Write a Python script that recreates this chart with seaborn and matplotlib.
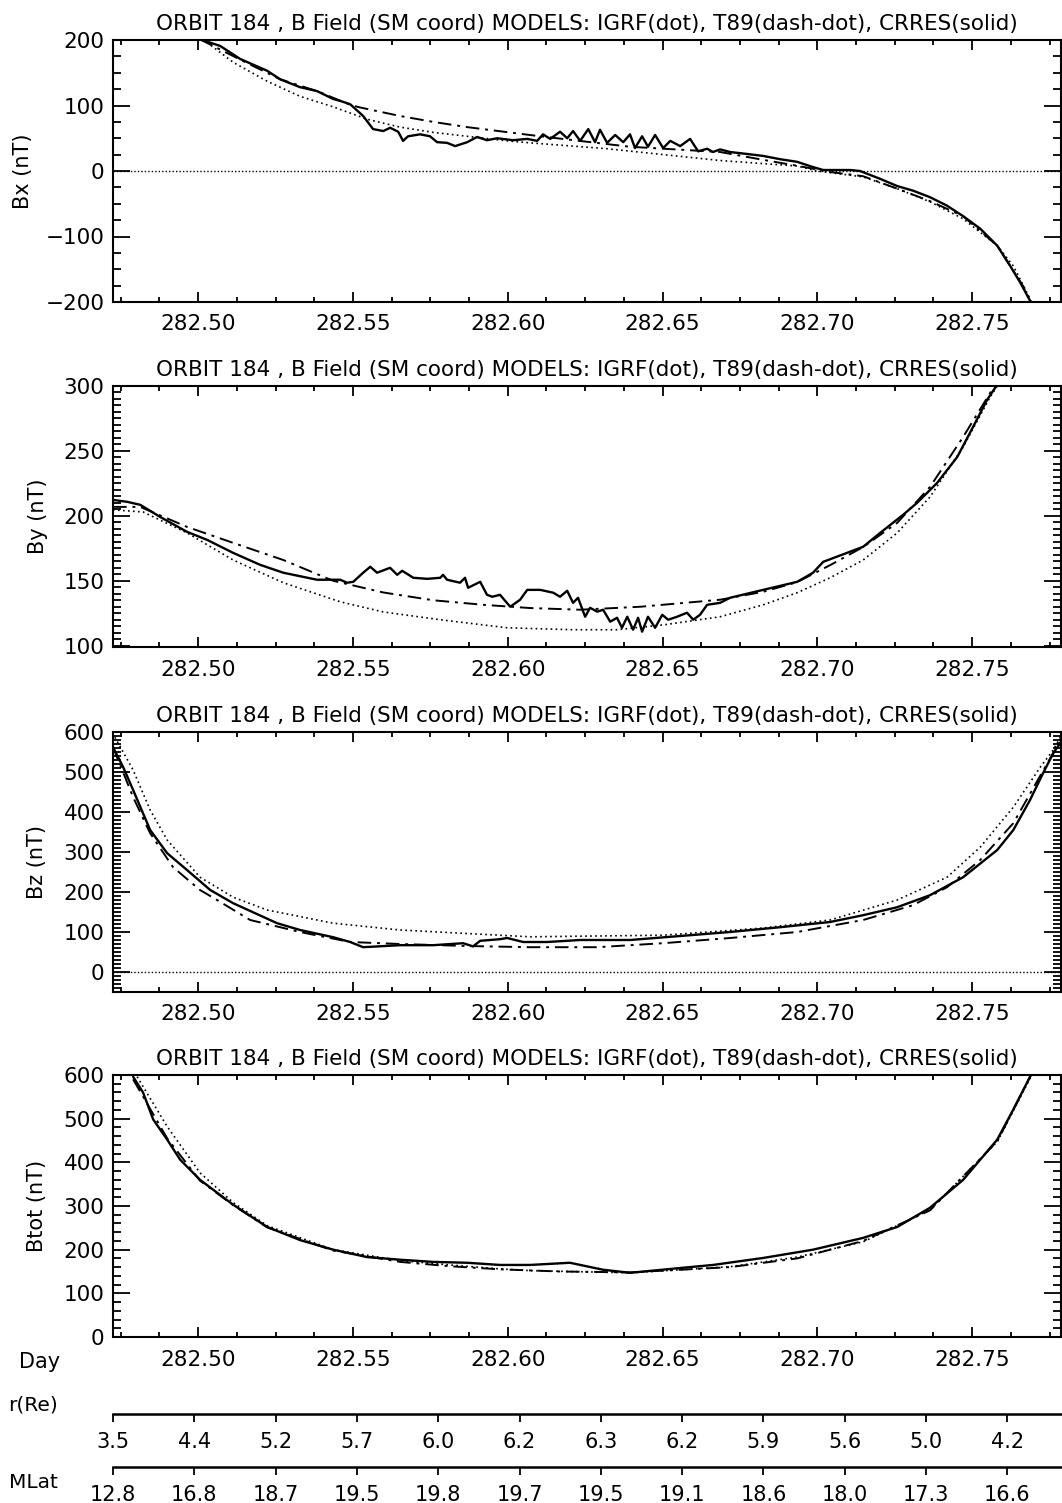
import matplotlib

matplotlib.use("Agg")
import matplotlib.pyplot as plt
import seaborn as sns
from matplotlib.ticker import FormatStrFormatter, MultipleLocator

TITLE = "ORBIT 184 , B Field (SM coord) MODELS: IGRF(dot), T89(dash-dot), CRRES(solid)"
XLIM = (282.4725, 282.7787)

# ---- Bx ----
BX_DAY_CRRES = [282.5006, 282.5071, 282.5136, 282.5223, 282.5265, 282.5329, 282.5384, 282.5436,
                282.5459, 282.5491, 282.5533, 282.5565, 282.5598, 282.5620, 282.5646, 282.5662,
                282.5678, 282.5717, 282.5749, 282.5772, 282.5804, 282.5830, 282.5869, 282.5901,
                282.5933, 282.5966, 282.6017, 282.6063, 282.6095, 282.6114, 282.6137, 282.6169,
                282.6192, 282.6211, 282.6234, 282.6260, 282.6282, 282.6298, 282.6321, 282.6347,
                282.6373, 282.6395, 282.6411, 282.6434, 282.6453, 282.6476, 282.6502, 282.6525,
                282.6557, 282.6589, 282.6615, 282.6644, 282.6663, 282.6686, 282.6718, 282.6773,
                282.6825, 282.6880, 282.6935, 282.6986, 282.7019, 282.7106, 282.7138, 282.7203,
                282.7258, 282.7309, 282.7364, 282.7419, 282.7471, 282.7526, 282.7581, 282.7623,
                282.7655, 282.7687, 282.7700]
BX_CRRES = [201, 191, 171, 153, 140, 128, 122, 110,
            107, 102, 84, 64, 61, 66, 60, 46,
            53, 56, 53, 44, 43, 38, 44, 52,
            47, 50, 47, 49, 46, 56, 49, 60,
            50, 61, 46, 64, 44, 63, 43, 55,
            44, 56, 35, 53, 37, 55, 35, 46,
            38, 49, 30, 34, 29, 33, 29, 26,
            23, 18, 14, 6, 1.5, 1.5, 0, -12,
            -23, -30, -40, -53, -69, -88, -114, -145,
            -170, -198, -210]

BX_DAY_T89 = [282.5006, 282.5136, 282.5265, 282.5384, 282.5491, 282.5523, 282.5652, 282.5759,
              282.5869, 282.6105, 282.6395, 282.6686, 282.6825, 282.6935, 282.7041, 282.7148,
              282.7258, 282.7364, 282.7471, 282.7581, 282.7665, 282.7687, 282.7700]
BX_T89 = [201, 170, 140, 122, 101, 97, 84, 75,
          67, 53, 37, 29, 17, 8, -1.5, -8,
          -27, -46, -69, -114, -176, -198, -210]

BX_DAY_IGRF = [282.5016, 282.5113, 282.5223, 282.5329, 282.5436, 282.5546, 282.5652, 282.5759,
               282.5869, 282.5998, 282.6072, 282.6321, 282.6686, 282.6935, 282.7000, 282.7148,
               282.7258, 282.7364, 282.7471, 282.7581, 282.7633, 282.7687, 282.7697]
BX_IGRF = [201, 166, 137, 114, 98, 79, 67, 59,
           53, 46, 43, 34, 16, 7.6, 0, -9,
           -27, -47, -73, -114, -145, -195, -210]

# ---- By ----
BY_DAY_CRRES = [282.4725, 282.4771, 282.4813, 282.4877, 282.4964, 282.5029, 282.5113, 282.5200,
                282.5275, 282.5384, 282.5459, 282.5481, 282.5501, 282.5533, 282.5556, 282.5578,
                282.5620, 282.5643, 282.5659, 282.5695, 282.5740, 282.5782, 282.5791, 282.5804,
                282.5846, 282.5862, 282.5872, 282.5911, 282.5933, 282.5950, 282.5975, 282.6008,
                282.6040, 282.6063, 282.6105, 282.6147, 282.6169, 282.6192, 282.6211, 282.6227,
                282.6250, 282.6266, 282.6289, 282.6308, 282.6331, 282.6353, 282.6369, 282.6386,
                282.6405, 282.6421, 282.6434, 282.6453, 282.6476, 282.6499, 282.6518, 282.6547,
                282.6579, 282.6599, 282.6621, 282.6644, 282.6686, 282.6718, 282.6825, 282.6935,
                282.6986, 282.7019, 282.7096, 282.7148, 282.7203, 282.7277, 282.7322, 282.7387,
                282.7452, 282.7503, 282.7548, 282.7574, 282.7590]
BY_CRRES = [212.3, 210.8, 208.5, 199.2, 187.7, 181.5, 171.5, 162.3,
            156.2, 150.8, 150.8, 148.5, 149.2, 156.2, 160.8, 156.2,
            160.0, 154.6, 157.7, 152.3, 151.5, 152.3, 154.6, 150.8,
            148.5, 152.3, 144.6, 149.2, 139.2, 137.7, 139.2, 130.0,
            135.4, 143.0, 143.0, 140.8, 137.7, 142.3, 133.0, 136.9,
            122.3, 129.2, 126.2, 127.7, 118.5, 121.5, 113.8, 122.3,
            112.3, 121.5, 110.8, 122.3, 113.8, 123.8, 120.0, 122.3,
            125.4, 120.0, 123.8, 131.5, 133.0, 136.9, 143.0, 149.2,
            156.2, 164.6, 171.5, 176.2, 186.9, 200.8, 210.0, 225.4,
            245.4, 268.5, 289.2, 298.5, 305.0]

BY_DAY_T89 = [282.4725, 282.4813, 282.4964, 282.5113, 282.5275, 282.5436, 282.5598, 282.5759,
              282.5921, 282.6072, 282.6234, 282.6428, 282.6686, 282.6825, 282.6935, 282.7041,
              282.7148, 282.7258, 282.7364, 282.7471, 282.7558, 282.7578]
BY_T89 = [206.9, 206.9, 191.5, 179.2, 166.0, 150.0, 141.0, 135.0,
          131.5, 129.0, 127.7, 130.0, 135.4, 141.5, 149.0, 162.0,
          176.0, 194.6, 222.3, 260.8, 294.6, 302.0]

BY_DAY_IGRF = [282.4725, 282.4822, 282.4964, 282.5113, 282.5275, 282.5459, 282.5598, 282.5782,
               282.5998, 282.6211, 282.6353, 282.6502, 282.6686, 282.6825, 282.6935, 282.7041,
               282.7148, 282.7258, 282.7364, 282.7471, 282.7558, 282.7584]
BY_IGRF = [204.6, 203.0, 186.9, 166.0, 148.5, 133.8, 126.0, 120.0,
           113.8, 112.3, 112.3, 116.0, 122.3, 131.5, 140.8, 152.3,
           166.0, 186.9, 214.6, 253.0, 291.5, 301.0]

# ---- Bz ----
BZ_DAY_CRRES = [282.4725, 282.4758, 282.4790, 282.4845, 282.4900, 282.4964, 282.5039, 282.5113,
                282.5255, 282.5329, 282.5436, 282.5491, 282.5533, 282.5652, 282.5759, 282.5856,
                282.5888, 282.5911, 282.5975, 282.5998, 282.6050, 282.6127, 282.6234, 282.6395,
                282.6557, 282.6718, 282.6880, 282.7041, 282.7148, 282.7258, 282.7364, 282.7471,
                282.7581, 282.7633, 282.7687, 282.7729, 282.7762, 282.7787]
BZ_CRRES = [562, 512, 455, 355, 297, 255, 205, 172,
            122, 105, 87, 75, 62, 67, 67, 72,
            64, 78, 82, 85, 75, 75, 80, 80,
            90, 100, 112, 125, 142, 162, 192, 237,
            305, 355, 430, 497, 547, 575]

BZ_DAY_T89 = [282.4725, 282.4790, 282.4845, 282.4919, 282.5006, 282.5061, 282.5168, 282.5329,
              282.5491, 282.5652, 282.5869, 282.6072, 282.6289, 282.6502, 282.6718, 282.6935,
              282.7148, 282.7309, 282.7419, 282.7526, 282.7633, 282.7743, 282.7787]
BZ_T89 = [562, 437, 347, 262, 205, 180, 130, 100,
          75, 70, 65, 62, 62, 72, 85, 100,
          130, 167, 212, 280, 372, 522, 580]

BZ_DAY_IGRF = [282.4731, 282.4790, 282.4845, 282.4900, 282.5006, 282.5113, 282.5223, 282.5436,
               282.5652, 282.6072, 282.6502, 282.6825, 282.7041, 282.7258, 282.7419, 282.7526,
               282.7633, 282.7720, 282.7762, 282.7787]
BZ_IGRF = [587, 505, 405, 330, 237, 187, 155, 122,
           105, 88, 92, 110, 130, 180, 237, 312,
           412, 512, 555, 590]

# ---- Btot ----
BT_DAY_CRRES = [282.4790, 282.4822, 282.4855, 282.4900, 282.4942, 282.5006, 282.5113, 282.5223,
                282.5329, 282.5436, 282.5546, 282.5652, 282.5759, 282.5869, 282.5975, 282.6072,
                282.6201, 282.6308, 282.6395, 282.6557, 282.6663, 282.6825, 282.6986, 282.7148,
                282.7258, 282.7364, 282.7471, 282.7581, 282.7633, 282.7687, 282.7697]
BT_CRRES = [596, 560, 498, 452, 406, 360, 303, 252,
            222, 200, 183, 177, 172, 170, 165, 165,
            170, 154, 147, 158, 165, 181, 200, 227,
            252, 296, 360, 452, 521, 596, 610]

BT_DAY_T89 = [282.4790, 282.4900, 282.5006, 282.5113, 282.5223, 282.5436, 282.5652, 282.5814,
              282.5975, 282.6169, 282.6395, 282.6718, 282.6935, 282.7148, 282.7364, 282.7581,
              282.7687, 282.7697]
BT_T89 = [590, 455, 358, 302, 251, 198, 172, 162,
          155, 150, 148, 160, 180, 220, 290, 448,
          596, 610]

BT_DAY_IGRF = [282.4803, 282.4900, 282.5006, 282.5113, 282.5223, 282.5436, 282.5652, 282.5814,
               282.5975, 282.6072, 282.6395, 282.6718, 282.6935, 282.7148, 282.7364, 282.7581,
               282.7690, 282.7700]
BT_IGRF = [596, 482, 376, 308, 255, 200, 175, 165,
           156, 152, 147, 161, 183, 218, 291, 447,
           596, 610]

# ---- orbit position axes ----
R_LABELS = ["3.5", "4.4", "5.2", "5.7", "6.0", "6.2", "6.3", "6.2", "5.9", "5.6", "5.0", "4.2"]
MLAT_LABELS = ["12.8", "16.8", "18.7", "19.5", "19.8", "19.7", "19.5", "19.1", "18.6", "18.0", "17.3", "16.6"]

W, H = 1062, 1503
LEFT, RIGHT = 113, 1061
PANELS = [
    # top px, bottom px, ylabel, ylabel x px, ylim, major, minor, zero line
    (40, 302, "Bx (nT)", 23, (-200, 200), 100, 25, True),
    (386, 647, "By (nT)", 38, (99, 300), 50, 5, False),
    (732, 992, "Bz (nT)", 37, (-50, 600), 100, 10, True),
    (1075, 1337, "Btot (nT)", 37, (0, 600), 100, 20, False),
]
SERIES = [
    ((BX_DAY_IGRF, BX_IGRF), (BX_DAY_T89, BX_T89), (BX_DAY_CRRES, BX_CRRES)),
    ((BY_DAY_IGRF, BY_IGRF), (BY_DAY_T89, BY_T89), (BY_DAY_CRRES, BY_CRRES)),
    ((BZ_DAY_IGRF, BZ_IGRF), (BZ_DAY_T89, BZ_T89), (BZ_DAY_CRRES, BZ_CRRES)),
    ((BT_DAY_IGRF, BT_IGRF), (BT_DAY_T89, BT_T89), (BT_DAY_CRRES, BT_CRRES)),
]
STYLES = [
    dict(linestyle=(0, (1, 2)), linewidth=1.2),
    dict(linestyle=(0, (7, 3, 1.5, 3)), linewidth=1.4),
    dict(linestyle="-", linewidth=1.7, solid_joinstyle="round"),
]

sns.set_theme(style="ticks")
plt.rcParams["font.family"] = ["DejaVu Sans"]
plt.rcParams["axes.linewidth"] = 1.5
plt.rcParams["axes.unicode_minus"] = True
for key in ["text.color", "axes.labelcolor", "xtick.color", "ytick.color", "axes.edgecolor"]:
    plt.rcParams[key] = "black"

fig = plt.figure(figsize=(W / 100, H / 100), dpi=100)
fig.patch.set_facecolor("white")


def rect(top, bottom):
    return [LEFT / W, 1 - bottom / H, (RIGHT - LEFT) / W, (bottom - top) / H]


for (top, bottom, ylabel, lab_x, ylim, major, minor, zero), series in zip(PANELS, SERIES):
    ax = fig.add_axes(rect(top, bottom))
    ax.set_facecolor("white")
    for (days, vals), style in zip(series, STYLES):
        sns.lineplot(x=days, y=vals, ax=ax, color="black", estimator=None, sort=False, **style)
    if zero:
        ax.axhline(0, color="black", linestyle=(0, (1, 1.5)), linewidth=1.0)
    ax.set_xlim(*XLIM)
    ax.set_ylim(*ylim)
    ax.xaxis.set_major_locator(MultipleLocator(0.05))
    ax.xaxis.set_minor_locator(MultipleLocator(0.0125))
    ax.xaxis.set_major_formatter(FormatStrFormatter("%.2f"))
    ax.yaxis.set_major_locator(MultipleLocator(major))
    ax.yaxis.set_minor_locator(MultipleLocator(minor))
    ax.tick_params(which="both", direction="in", top=True, right=True, colors="black", width=1.3)
    ax.tick_params(axis="x", which="major", length=7, pad=9, labelsize=15.5)
    ax.tick_params(axis="x", which="minor", length=3.5)
    ax.tick_params(axis="y", which="major", length=12, pad=6, labelsize=15.5)
    ax.tick_params(axis="y", which="minor", length=6)
    ax.set_title(TITLE, fontsize=15.5, pad=7, color="black")
    ax.set_ylabel(ylabel, fontsize=15, va="center")
    ax.yaxis.set_label_coords((lab_x - LEFT) / (RIGHT - LEFT), 0.5)
    ax.set_xlabel("")
    for spine in ax.spines.values():
        spine.set_visible(True)
        spine.set_color("black")

fig.text(40 / W, 1 - 1362 / H, "Day", ha="center", va="center", fontsize=15)

for line_px, labels, name, name_y in [(1413, R_LABELS, "r(Re)", 1405), (1466, MLAT_LABELS, "MLat", 1483)]:
    pax = fig.add_axes([LEFT / W, 1 - line_px / H - 0.0005, (W - LEFT) / W, 0.0005])
    pax.set_facecolor("none")
    for side in ["left", "right", "top"]:
        pax.spines[side].set_visible(False)
    pax.spines["bottom"].set_linewidth(1.8)
    pax.set_xlim(0, (W - LEFT) / 81.3)
    pax.set_xticks(range(len(labels)))
    pax.set_xticklabels(labels)
    pax.set_yticks([])
    pax.tick_params(axis="x", direction="out", length=6, width=1.3, pad=7, labelsize=15, colors="black")
    fig.text(33 / W, 1 - name_y / H, name, ha="center", va="center", fontsize=14.5)

fig.savefig("out.png", dpi=100)
